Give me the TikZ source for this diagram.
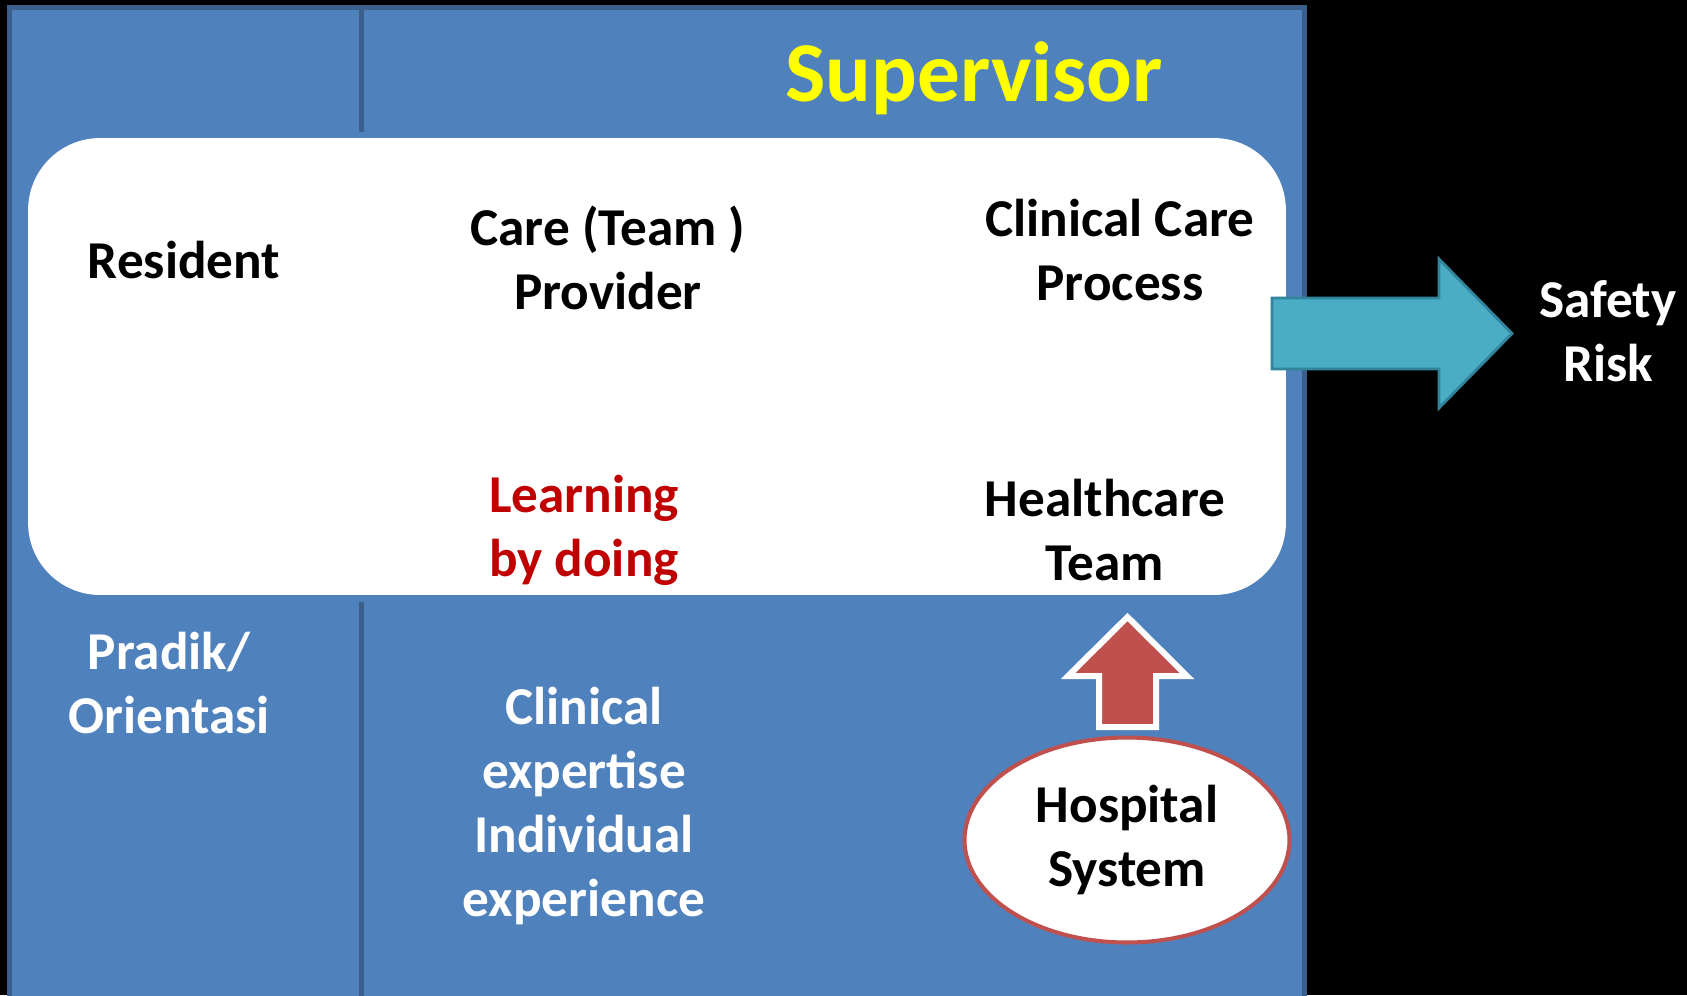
\documentclass[tikz,border=0pt]{standalone}
\usepackage{fontspec}
\setmainfont{Carlito}
\usepackage{xcolor}
\usetikzlibrary{positioning, calc, shapes.geometric}
\definecolor{panelblue}{HTML}{4F81BD}
\definecolor{paneledge}{HTML}{3A5F8B}
\definecolor{riskcyan}{HTML}{4BACC6}
\definecolor{riskedge}{HTML}{31849B}
\definecolor{sysred}{HTML}{C0504D}
\definecolor{learnred}{HTML}{C00000}
\definecolor{supyellow}{HTML}{FFFF00}
\tikzset{
  panel/.style={
    fill=panelblue,
    draw=paneledge,
    line width=2.85pt
  },
  divider/.style={
    draw=paneledge,
    line width=2.85pt
  },
  whitebox/.style={
    rectangle,
    fill=white,
    rounded corners=1.44cm,
    minimum width=25.16cm,
    minimum height=9.14cm,
    inner sep=0pt
  },
  celltext/.style={
    font=\fontsize{30.3}{36.6}\selectfont\bfseries,
    align=center,
    inner sep=0pt
  },
  titletext/.style={
    font=\fontsize{48.5}{56}\selectfont\bfseries,
    text=supyellow,
    inner sep=0pt
  },
  hospitalnode/.style={
    ellipse,
    draw=sysred,
    fill=white,
    line width=2.3pt,
    minimum width=6.5cm,
    minimum height=4.1cm,
    inner sep=0pt,
    celltext
  },
  riskarrow/.style={
    fill=riskcyan,
    draw=riskedge,
    line width=1.6pt,
    line join=miter
  },
  sysarrow/.style={
    fill=sysred,
    draw=white,
    line width=3.4pt,
    line join=miter
  }
}
\begin{document}
\begin{tikzpicture}[x=0.02cm, y=-0.02cm]
  \useasboundingbox (0,0) rectangle (1687,995);
  \fill[black] (0,0) rectangle (1687,995);

  \draw[panel] (9.5,7.5) rectangle (1304.5,1010);
  \draw[divider] (361,5) -- (361,132);
  \draw[divider] (361,602) -- (361,1010);

  \node[whitebox] (board) at (657,366.5) {};

  \node[titletext] (supervisor) at (974,78) {Supervisor};
  \node[celltext] (resident) at (184,260) {Resident};
  \node[celltext] (provider) at (608,258) {Care (Team )\\Provider};
  \node[celltext] (process) at (1120,250) {Clinical Care\\Process};
  \node[celltext, text=learnred] (learning) at (584,530) {Learning\\by doing};
  \node[celltext] (team) at (1105,530) {Healthcare\\Team};
  \node[celltext, text=white] (pradik) at (169,683) {Pradik/\\Orientasi};
  \node[celltext, text=white] (expertise) at (584,806)
    {Clinical\\expertise\\Individual\\experience};
  \node[celltext, text=white] (safety) at (1608,331) {Safety\\Risk};

  \draw[sysarrow] (1099,727) -- (1099,676) -- (1068,676) -- (1127.5,617)
    -- (1187,676) -- (1156,676) -- (1156,727) -- cycle;
  \node[hospitalnode] (hospital) at (1127,840) {Hospital\\System};

  \draw[riskarrow] (1272,298) -- (1439,298) -- (1439,259) -- (1512,333.5)
    -- (1439,408) -- (1439,369) -- (1272,369) -- cycle;
\end{tikzpicture}
\end{document}
